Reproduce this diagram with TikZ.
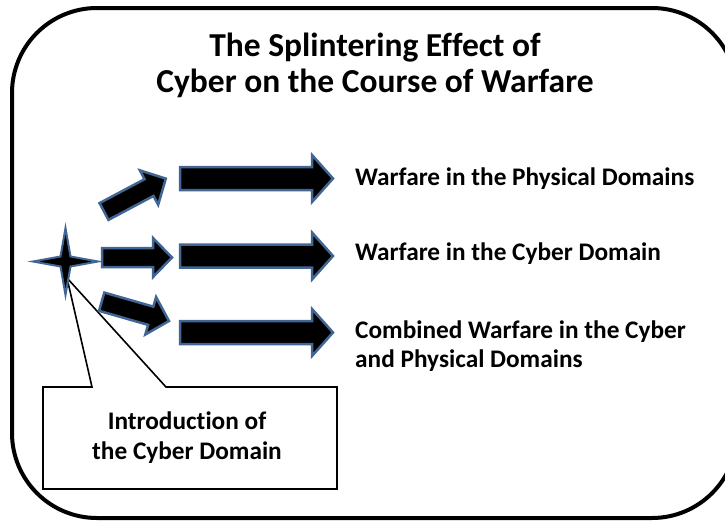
\documentclass[tikz,border=0pt]{standalone}
\usepackage{fontspec}
\setmainfont{Carlito}[Ligatures=NoCommon]
\definecolor{edgeblue}{RGB}{66,102,148}
\tikzset{
  outerframe/.style={draw=black, line width=4pt, line cap=butt},
  arrowbody/.style={fill=black, draw=edgeblue, line width=2.5pt, line join=miter},
  headline/.style={font=\fontsize{33.5}{36}\selectfont\bfseries, align=center, anchor=base, inner sep=0pt},
  domaintext/.style={font=\fontsize{25.3}{29}\selectfont\bfseries, align=left, anchor=base west, inner sep=0pt},
  calloutbox/.style={draw=black, line width=1.6pt, fill=white, line join=miter},
  calloutlabel/.style={font=\fontsize{25.3}{30}\selectfont\bfseries, align=center, anchor=base, inner sep=0pt},
  starshape/.style={fill=black, draw=edgeblue, line width=2pt, line join=miter},
  bigarr/.pic={\draw[arrowbody] (0,-11.5) -- (132,-11.5) -- (132,-23.5) -- (153,0)
                 -- (132,23.5) -- (132,11.5) -- (0,11.5) -- cycle;},
  smallarr/.pic={\draw[arrowbody] (0,-9.5) -- (51,-9.5) -- (51,-19.5) -- (70,0)
                 -- (51,19.5) -- (51,9.5) -- (0,9.5) -- cycle;},
}
\begin{document}
\begin{tikzpicture}[x=1pt,y=1pt]
\useasboundingbox (0,0) rectangle (725,-522);

% outer rounded frame; its right side lies beyond the page, only the corner arcs show
\begin{scope}
  \clip (0,0) rectangle (725,-522);
  \draw[outerframe] (737,-93) arc[start angle=0, end angle=90, radius=85]
    -- (97,-8) arc[start angle=90, end angle=180, radius=85]
    -- (12,-433) arc[start angle=180, end angle=270, radius=85]
    -- (652,-518) arc[start angle=270, end angle=360, radius=85];
\end{scope}

% heading (base anchor sits on the last line)
\node[headline] (title) at (375,-92) {The Splintering Effect of\\Cyber on the Course of Warfare};

% callout box with its wedge pointing at the star
\coordinate (wedgetip) at (67,-278);
\draw[calloutbox] (43,-387) -- (92,-387) -- (wedgetip) -- (166,-387) -- (337,-387)
  -- (337,-489) -- (43,-489) -- cycle;
\node[calloutlabel] (intro) at (187,-459) {Introduction of\\the Cyber Domain};

% four-point star
\begin{scope}[shift={(65.5,-261.5)}]
  \draw[starshape] (-32.5,0) -- (-5,5) -- (0,33.5) -- (5,5) -- (32.5,0)
    -- (5,-5) -- (0,-33.5) -- (-5,-5) -- cycle;
\end{scope}

% short arrows fanning out from the star
\pic[rotate=28] (s1) at (104,-211.5) {smallarr};
\pic (s2) at (102,-257.5) {smallarr};
\pic[rotate=-16] (s3) at (101.7,-301.7) {smallarr};

% long arrows
\pic (b1) at (180,-178.5) {bigarr};
\pic (b2) at (180,-256) {bigarr};
\pic (b3) at (180,-332.5) {bigarr};

% domain labels
\node[domaintext] (phys) at (355,-185) {Warfare in the Physical Domains};
\node[domaintext] (cyber) at (355,-260) {Warfare in the Cyber Domain};
\node[domaintext] (comb) at (355,-367) {Combined Warfare in the Cyber\\and Physical Domains};
\end{tikzpicture}
\end{document}
